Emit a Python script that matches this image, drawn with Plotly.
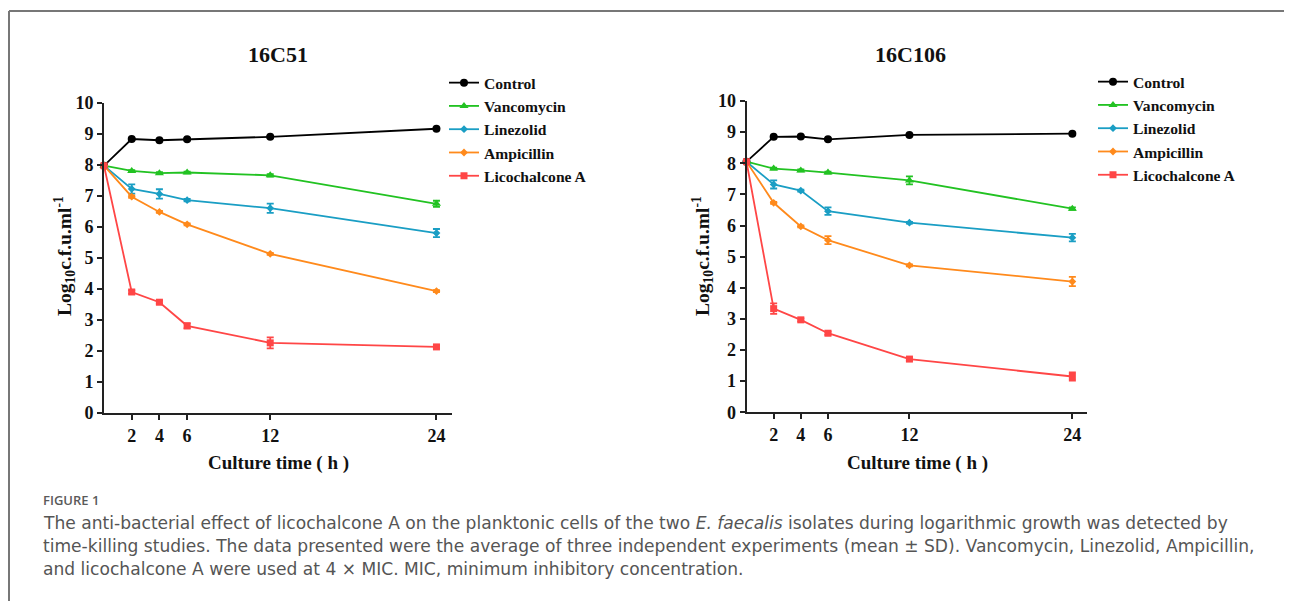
import plotly.graph_objects as go

# page body has an 8px margin, so the figure is 8px smaller than the window
OFF = 8
FW, FH = 1292 - OFF, 601 - OFF

hours = [0, 2, 4, 6, 12, 24]
x_ticks = [2, 4, 6, 12, 24]
y_ticks = [0, 1, 2, 3, 4, 5, 6, 7, 8, 9, 10]
series_names = ["Control", "Vancomycin", "Linezolid", "Ampicillin", "Licochalcone A"]

# 16C51
c51_control = [7.97, 8.83, 8.79, 8.82, 8.90, 9.16]
c51_control_err = [0, 0.03, 0.03, 0.03, 0.03, 0.03]
c51_vanco = [7.97, 7.80, 7.73, 7.75, 7.66, 6.74]
c51_vanco_err = [0, 0.03, 0.03, 0.03, 0.04, 0.10]
c51_linez = [7.97, 7.22, 7.06, 6.86, 6.60, 5.80]
c51_linez_err = [0, 0.15, 0.15, 0.04, 0.15, 0.13]
c51_ampi = [7.97, 6.97, 6.48, 6.08, 5.13, 3.93]
c51_ampi_err = [0, 0.04, 0.03, 0.03, 0.03, 0.03]
c51_lico = [7.97, 3.90, 3.57, 2.81, 2.26, 2.13]
c51_lico_err = [0, 0.05, 0.05, 0.08, 0.18, 0.05]

# 16C106
c106_control = [8.05, 8.85, 8.86, 8.77, 8.91, 8.95]
c106_control_err = [0, 0.03, 0.03, 0.03, 0.03, 0.03]
c106_vanco = [8.05, 7.83, 7.77, 7.70, 7.45, 6.54]
c106_vanco_err = [0, 0.03, 0.03, 0.03, 0.13, 0.04]
c106_linez = [8.05, 7.32, 7.12, 6.46, 6.09, 5.61]
c106_linez_err = [0, 0.13, 0.03, 0.12, 0.03, 0.12]
c106_ampi = [8.05, 6.73, 5.97, 5.53, 4.72, 4.20]
c106_ampi_err = [0, 0.03, 0.03, 0.13, 0.03, 0.15]
c106_lico = [8.05, 3.33, 2.97, 2.54, 1.71, 1.15]
c106_lico_err = [0, 0.17, 0.05, 0.05, 0.05, 0.13]

colors = ["#000000", "#22c222", "#1a9ec4", "#ff8a1c", "#ff4646"]
symbols = ["circle", "triangle-up", "diamond", "diamond", "square"]
sizes = [8, 8, 6, 6, 7]

SERIF = "Liberation Serif"


def px_x(p):
    return (p - OFF) / FW


def px_y(p):
    return 1 - (p - OFF) / FH


fig = go.Figure()

panels = [
    dict(xa="x", ya="y", legend="legend",
         data=[(c51_control, c51_control_err), (c51_vanco, c51_vanco_err),
               (c51_linez, c51_linez_err), (c51_ampi, c51_ampi_err),
               (c51_lico, c51_lico_err)]),
    dict(xa="x2", ya="y2", legend="legend2",
         data=[(c106_control, c106_control_err), (c106_vanco, c106_vanco_err),
               (c106_linez, c106_linez_err), (c106_ampi, c106_ampi_err),
               (c106_lico, c106_lico_err)]),
]

for p in panels:
    for i, (vals, err) in enumerate(p["data"]):
        fig.add_trace(go.Scatter(
            x=hours, y=vals, name=series_names[i], mode="lines+markers",
            xaxis=p["xa"], yaxis=p["ya"], legend=p["legend"],
            line=dict(color=colors[i], width=1.8),
            marker=dict(color=colors[i], symbol=symbols[i], size=sizes[i]),
            error_y=dict(type="data", array=err, visible=True, color=colors[i],
                         thickness=1.8, width=3.5),
            cliponaxis=False,
        ))

axis_common = dict(
    showline=True, linecolor="#222222", linewidth=2, mirror=False,
    ticks="outside", ticklen=5, tickwidth=2, tickcolor="#222222",
    showgrid=False, zeroline=False, automargin=False,
    tickfont=dict(family=SERIF, size=18, color="#111111", weight="bold"),
)

legend_font = dict(family=SERIF, size=15.6, color="#111111", weight="bold")

fig.update_layout(
    width=FW, height=FH, margin=dict(l=0, r=0, t=0, b=0, autoexpand=False),
    paper_bgcolor="white", plot_bgcolor="white",
    xaxis=dict(domain=[px_x(104), px_x(451.7)], range=[0, 25.1],
               tickvals=x_ticks, anchor="y", **axis_common),
    yaxis=dict(domain=[px_y(413), px_y(102.7)], range=[0, 10],
               tickvals=y_ticks, anchor="x", **axis_common),
    xaxis2=dict(domain=[px_x(746.5), px_x(1087.3)], range=[0, 25.1],
                tickvals=x_ticks, anchor="y2", **axis_common),
    yaxis2=dict(domain=[px_y(412.3), px_y(101)], range=[0, 10],
                tickvals=y_ticks, anchor="x2", **axis_common),
    legend=dict(x=px_x(444), y=px_y(66), xanchor="left", yanchor="top",
                font=legend_font, bgcolor="rgba(0,0,0,0)", itemwidth=30, tracegroupgap=0),
    legend2=dict(x=px_x(1093), y=px_y(65), xanchor="left", yanchor="top",
                 font=legend_font, bgcolor="rgba(0,0,0,0)", itemwidth=30, tracegroupgap=0),
    showlegend=True,
)

annotations = []
# panel titles
for txt, cx in [("16C51", 278), ("16C106", 910)]:
    annotations.append(dict(text=txt, x=px_x(cx), y=px_y(55), xref="paper", yref="paper",
                            showarrow=False, xanchor="center", yanchor="middle",
                            font=dict(family=SERIF, size=22, color="#111111", weight="bold")))
# x axis titles
for cx in [278, 917]:
    annotations.append(dict(text="Culture time ( h )", x=px_x(cx), y=px_y(463),
                            xref="paper", yref="paper", showarrow=False,
                            xanchor="center", yanchor="middle",
                            font=dict(family=SERIF, size=19, color="#111111", weight="bold")))
# y axis titles
for cx in [64, 702]:
    annotations.append(dict(text="Log<sub>10</sub>c.f.u.ml<sup>-1</sup>", x=px_x(cx), y=px_y(256),
                            xref="paper", yref="paper", showarrow=False, textangle=-90,
                            xanchor="center", yanchor="middle",
                            font=dict(family=SERIF, size=19.5, color="#111111", weight="bold")))
# caption
CAP = "DejaVu Sans"
annotations.append(dict(text="FIGURE 1", x=px_x(41), y=px_y(500), xref="paper", yref="paper",
                        showarrow=False, xanchor="left", yanchor="middle",
                        font=dict(family="Open Sans", size=13, color="#5a5a5a", weight=600)))
cap_lines = [
    "The anti-bacterial effect of licochalcone A on the planktonic cells of the two <i>E. faecalis</i> isolates during logarithmic growth was detected by",
    "time-killing studies. The data presented were the average of three independent experiments (mean ± SD). Vancomycin, Linezolid, Ampicillin,",
    "and licochalcone A were used at 4 × MIC. MIC, minimum inhibitory concentration.",
]
for k, line in enumerate(cap_lines):
    annotations.append(dict(text=line, x=px_x(41), y=px_y(523 + 23 * k), xref="paper", yref="paper",
                            showarrow=False, xanchor="left", yanchor="middle",
                            font=dict(family=CAP, size=17.1, color="#555555")))
fig.update_layout(annotations=annotations)

# frame
fig.add_shape(type="line", xref="paper", yref="paper", x0=px_x(9), x1=1, y0=px_y(11), y1=px_y(11),
              line=dict(color="#777777", width=2))
fig.add_shape(type="line", xref="paper", yref="paper", x0=px_x(9), x1=px_x(9), y0=px_y(11), y1=0,
              line=dict(color="#777777", width=2))

fig.write_html("out.html")
